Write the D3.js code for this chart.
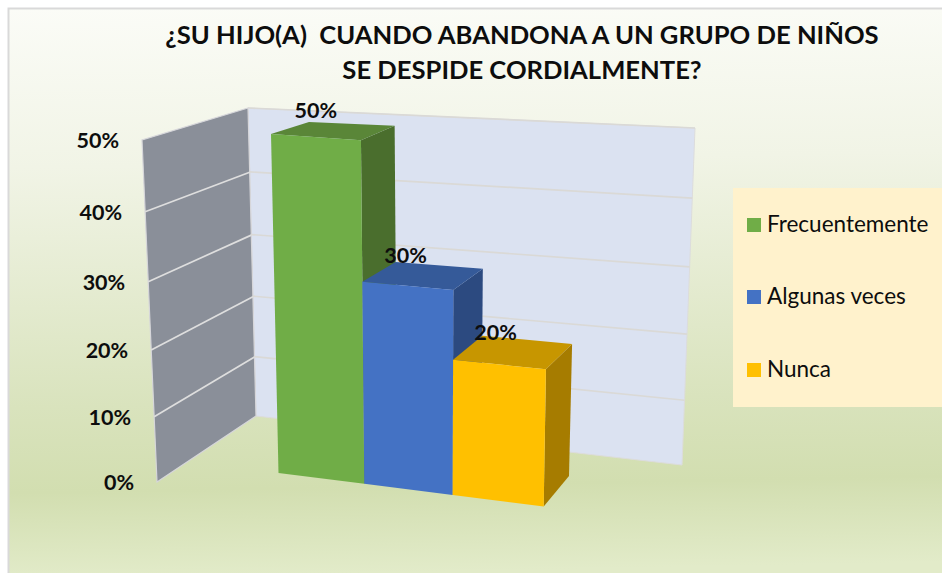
<!DOCTYPE html>
<html><head><meta charset="utf-8">
<script src="https://cdn.jsdelivr.net/npm/d3@7/dist/d3.min.js"></script>
<style>html,body{margin:0;padding:0;background:#fff}svg{display:block}text{font-family:Lato,"Open Sans",sans-serif;white-space:pre}</style>
</head><body><svg id="c" width="942" height="573"></svg>
<script>
const titleLines = ["¿SU HIJO(A)  CUANDO ABANDONA A UN GRUPO DE NIÑOS", "SE DESPIDE CORDIALMENTE?"];
const categories = ["Frecuentemente", "Algunas veces", "Nunca"];
const values = [50, 30, 20];
const tickValues = [0, 10, 20, 30, 40, 50];
const frontColors = ["#70ad47", "#4472c4", "#ffc000"];
const topColors = ["#5a8638", "#355a99", "#c79600"];
const sideColors = ["#4a6e2d", "#2c4a80", "#a67c00"];

function plane(q){
  const [[x0,y0],[x1,y1],[x2,y2],[x3,y3]] = q;
  const dx1=x1-x2, dx2=x3-x2, sx=x0-x1+x2-x3, dy1=y1-y2, dy2=y3-y2, sy=y0-y1+y2-y3;
  const den=dx1*dy2-dx2*dy1, g=(sx*dy2-dx2*sy)/den, h=(dx1*sy-sx*dy1)/den;
  const a=x1-x0+g*x1, b=x3-x0+h*x3, d=y1-y0+g*y1, e=y3-y0+h*y3;
  return (u,v)=>{const w=g*u+h*v+1; return [(a*u+b*v+x0)/w,(d*u+e*v+y0)/w];};
}
const backWall = plane([[256,416],[682,465],[695,128],[248,108]]);
const sideWall = plane([[157,482],[256,416],[248,108],[142,140]]);
const barFront = plane([[278.5,473],[543.7,506.5],[549.5,153],[271,134]]);
const barBack  = plane([[316,445],[569,476],[577,134],[309,122]]);

const yFrac = d3.scaleLinear().domain([0,50]).range([0,1]);
const xBand = d3.scaleBand().domain(categories).range([0,1]);
const pct = d => d + "%";
const svg = d3.select("#c");
const path = pts => "M" + pts.map(p=>p.join(",")).join("L") + "Z";

const defs = svg.append("defs");
const grad = defs.append("linearGradient").attr("id","bg").attr("x1",0).attr("y1",0).attr("x2",0.03).attr("y2",1);
[[0,"#fbfcf7"],[0.28,"#f1f4e6"],[0.7,"#d9e3bd"],[0.85,"#d2deb0"],[1,"#e2ebc9"]].forEach(s=>grad.append("stop").attr("offset",s[0]).attr("stop-color",s[1]));

svg.append("rect").attr("x",8.5).attr("y",8.5).attr("width",940).attr("height",570)
  .attr("fill","url(#bg)").attr("stroke","#d9d9d9").attr("stroke-width",2);

svg.append("g").selectAll("text").data(titleLines).join("text")
  .attr("x",522).attr("y",(d,i)=>44+i*34.5).attr("text-anchor","middle")
  .attr("font-size",25.6).attr("font-weight",700).attr("fill","#0d0d0d").text(d=>d);

svg.append("path").attr("d",path([backWall(0,0),backWall(1,0),backWall(1,1),backWall(0,1)]))
  .attr("fill","#dbe2f1").attr("stroke","#dcdcdc").attr("stroke-width",1);
svg.append("path").attr("d",path([sideWall(0,0),sideWall(1,0),sideWall(1,1),sideWall(0,1)]))
  .attr("fill","#8a8f99").attr("stroke","#d6d6da").attr("stroke-width",1.2);

const grid = tickValues.filter(t=>t>0);
svg.append("g").selectAll("line").data(grid).join("line")
  .attr("x1",t=>backWall(0,yFrac(t))[0]).attr("y1",t=>backWall(0,yFrac(t))[1])
  .attr("x2",t=>backWall(1,yFrac(t))[0]).attr("y2",t=>backWall(1,yFrac(t))[1])
  .attr("stroke","#dad9d6").attr("stroke-width",1.7);
svg.append("g").selectAll("line").data(grid.filter(t=>t<50)).join("line")
  .attr("x1",t=>sideWall(0,yFrac(t))[0]).attr("y1",t=>sideWall(0,yFrac(t))[1])
  .attr("x2",t=>sideWall(1,yFrac(t))[0]).attr("y2",t=>sideWall(1,yFrac(t))[1])
  .attr("stroke","#dedede").attr("stroke-width",1.7);

svg.append("g").selectAll("text").data(tickValues).join("text")
  .attr("x",t=>sideWall(0,yFrac(t))[0]-23).attr("y",t=>sideWall(0,yFrac(t))[1]+8)
  .attr("text-anchor","end").attr("font-size",21.5).attr("font-weight",700).attr("fill","#0d0d0d").text(pct);

const bars = categories.map((c,i)=>{
  const u0=xBand(c), u1=u0+xBand.bandwidth(), v=yFrac(values[i]);
  return {i,c,value:values[i],
    front:[barFront(u0,0),barFront(u1,0),barFront(u1,v),barFront(u0,v)],
    top:[barFront(u0,v),barFront(u1,v),barBack(u1,v),barBack(u0,v)],
    side:[barFront(u1,0),barBack(u1,0),barBack(u1,v),barFront(u1,v)]};
});
const barG = svg.append("g").selectAll("g").data(bars).join("g");
barG.append("path").attr("d",b=>path(b.side)).attr("fill",b=>sideColors[b.i]);
barG.append("path").attr("d",b=>path(b.top)).attr("fill",b=>topColors[b.i]);
barG.append("path").attr("d",b=>path(b.front)).attr("fill",b=>frontColors[b.i]);

svg.append("g").selectAll("text").data(bars).join("text")
  .attr("x",b=>(b.top[0][0]+b.top[2][0])/2-17).attr("y",b=>(b.top[0][1]+b.top[2][1])/2-12)
  .attr("text-anchor","middle").attr("font-size",21.5).attr("font-weight",700).attr("fill","#0d0d0d").text(b=>pct(b.value));

svg.append("rect").attr("x",733).attr("y",188).attr("width",209).attr("height",219).attr("fill","#fff2cc");
const legend = svg.append("g").selectAll("g").data(categories).join("g")
  .attr("transform",(c,i)=>`translate(747,${[218,290,363][i]})`);
legend.append("rect").attr("width",14).attr("height",14).attr("fill",(c,i)=>frontColors[i]);
legend.append("text").attr("x",20).attr("y",13.5).attr("font-size",22.5).attr("fill","#0d0d0d").text(c=>c);
</script></body></html>
